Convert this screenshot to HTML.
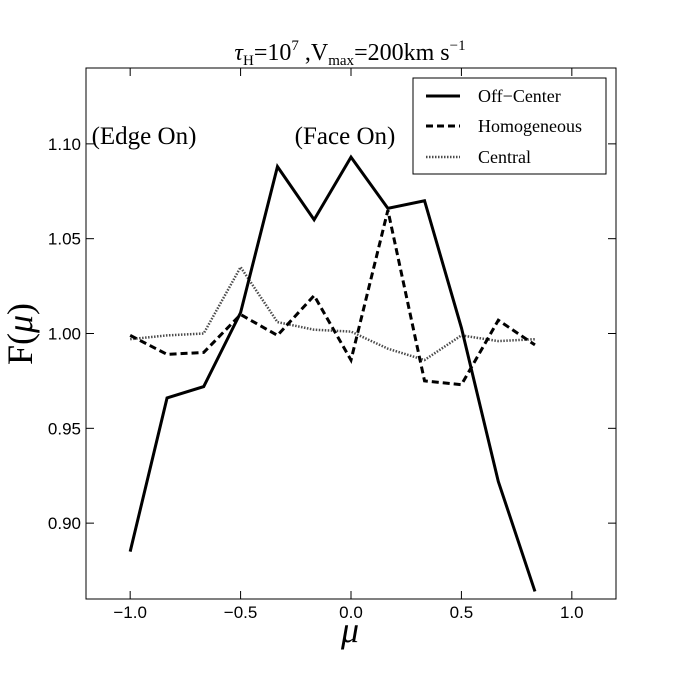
<!DOCTYPE html>
<html><head><meta charset="utf-8"><style>
body{margin:0;background:#fff;width:684px;height:684px;overflow:hidden}
text{font-family:"Liberation Sans",sans-serif}
.s{font-family:"Liberation Serif",serif}
</style></head><body>
<svg id="chart" width="684" height="684" xmlns="http://www.w3.org/2000/svg">
<rect x="0" y="0" width="684" height="684" fill="#fff"/>
<g id="ticks"></g>
<g id="series"></g>
<rect x="86" y="68" width="530" height="531" fill="none" stroke="#000" stroke-width="1"/>
<text class="s" x="350" y="60" font-size="24" text-anchor="middle"><tspan font-style="italic">τ</tspan><tspan font-size="15" dy="5">H</tspan><tspan dy="-5">=10</tspan><tspan font-size="15" dy="-10">7</tspan><tspan dy="10"> ,V</tspan><tspan font-size="15" dy="5">max</tspan><tspan dy="-5">=200km s</tspan><tspan font-size="15" dy="-10">−1</tspan></text>
<text class="s" x="144" y="144" font-size="25" text-anchor="middle">(Edge On)</text>
<text class="s" x="345" y="144" font-size="25" text-anchor="middle">(Face On)</text>
<text class="s" x="350" y="642" font-size="36" font-style="italic" text-anchor="middle">μ</text>
<text class="s" transform="translate(32,334) rotate(-90)" font-size="36" text-anchor="middle">F(<tspan font-style="italic">μ</tspan>)</text>
<g>
<rect x="413" y="78" width="193" height="96" fill="#fff" stroke="#000"/>
<line x1="426" y1="96" x2="460" y2="96" stroke="#000" stroke-width="3"/>
<text class="s" x="478" y="102" font-size="18">Off−Center</text>
<line x1="426" y1="126" x2="460" y2="126" stroke="#000" stroke-width="3" stroke-dasharray="7,4"/>
<text class="s" x="478" y="132" font-size="18">Homogeneous</text>
<line x1="426" y1="157" x2="460" y2="157" stroke="#000" stroke-width="2.5" stroke-dasharray="1.5,1.5" opacity="0.7"/>
<text class="s" x="478" y="163" font-size="18">Central</text>
</g>
</svg>
<script>
const mu=[-1,-0.833,-0.667,-0.5,-0.333,-0.167,0,0.167,0.333,0.5,0.667,0.833];
const offCenter=[0.885,0.966,0.972,1.011,1.088,1.060,1.093,1.066,1.070,1.003,0.922,0.864];
const homogeneous=[0.999,0.989,0.990,1.010,0.999,1.020,0.986,1.065,0.975,0.973,1.007,0.994];
const central=[0.997,0.999,1.000,1.035,1.006,1.002,1.001,0.992,0.986,0.999,0.996,0.997];
const xTicks=[-1.0,-0.5,0.0,0.5,1.0];
const yTicks=[0.90,0.95,1.00,1.05,1.10];
const X0=86,X1=616,Y0=599,Y1=68,xmin=-1.2,xmax=1.2,ymin=0.86,ymax=1.14;
const sx=v=>X0+(v-xmin)/(xmax-xmin)*(X1-X0);
const sy=v=>Y0-(v-ymin)/(ymax-ymin)*(Y0-Y1);
const NS="http://www.w3.org/2000/svg";
const tg=document.getElementById('ticks'),sg=document.getElementById('series');
function mk(t,a,p){const e=document.createElementNS(NS,t);for(const k in a)e.setAttribute(k,a[k]);p.appendChild(e);return e;}
xTicks.forEach(v=>{const x=sx(v);
mk('line',{x1:x,x2:x,y1:Y0,y2:Y0-8,stroke:'#000'},tg);
mk('line',{x1:x,x2:x,y1:Y1,y2:Y1+8,stroke:'#000'},tg);
const t=mk('text',{x:x,y:618,'font-size':17,'text-anchor':'middle'},tg);t.textContent=(v<0?'−':'')+Math.abs(v).toFixed(1);

});
yTicks.forEach(v=>{const y=sy(v);
mk('line',{x1:X0,x2:X0+8,y1:y,y2:y,stroke:'#000'},tg);
mk('line',{x1:X1,x2:X1-8,y1:y,y2:y,stroke:'#000'},tg);
const t=mk('text',{x:81,y:y+6,'font-size':17,'text-anchor':'end'},tg);t.textContent=v.toFixed(2);

});
function line(d,attrs,name){const pts=mu.map((m,i)=>sx(m)+','+sy(d[i])).join(' ');
const p=mk('polyline',Object.assign({points:pts,fill:'none',stroke:'#000'},attrs),sg);

}
line(central,{'stroke-width':2.5,'stroke-dasharray':'1.5,1.5',opacity:0.7},'central-line');
line(homogeneous,{'stroke-width':3,'stroke-dasharray':'7,4'},'homogeneous-line');
line(offCenter,{'stroke-width':3},'off-center-line');
</script>
</body></html>
